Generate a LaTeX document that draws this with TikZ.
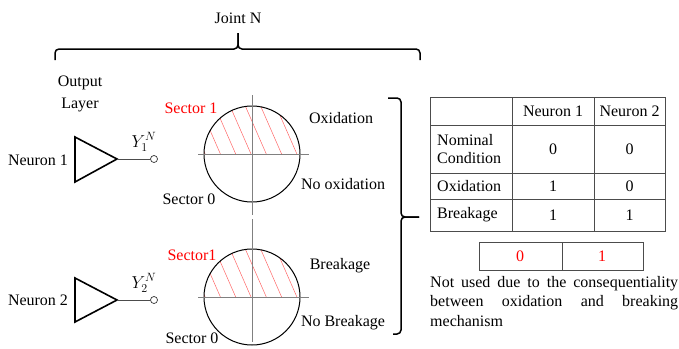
\documentclass[tikz,border=0pt]{standalone}
\usepackage{fontspec}
\setmainfont{Liberation Serif}
\usepackage{tikz}
\usetikzlibrary{positioning}
\tikzset{
    lbl/.style = {inner sep=0pt, font=\fontsize{16}{18}\selectfont},
    redlbl/.style = {lbl, text=red},
    neuron/.style = {draw=black, line width=1.6pt, line join=miter},
    axis/.style = {draw=gray, line width=0.9pt},
    disc/.style = {draw=black, line width=1pt},
    hatch/.style = {draw=red!60, line width=0.5pt},
    brace/.style = {draw=black, line width=1.5pt, rounded corners=4pt},
    grid/.style = {draw=black!70, line width=0.9pt},
}

\begin{document}
\begin{tikzpicture}[x=1pt, y=-1pt]
  \useasboundingbox (0,0) rectangle (679,348);

  % top brace
  \node[lbl] (joint) at (238,18) {Joint N};
  \draw[brace] (55,60) |- (238,49) -- (238,33);
  \draw[brace] (420,60) |- (238,49) -- (238,33);
  \node[lbl, align=center, font=\fontsize{16}{22}\selectfont] (outlayer) at (80,94) {Output\\Layer};

  % neurons
  \node[lbl] (neur1) at (38,160) {Neuron 1};
  \node[lbl] (neur2) at (38,300) {Neuron 2};
  \draw[neuron] (75,137) -- (117,159) -- (75,182) -- cycle;
  \draw[neuron] (75,278) -- (117,300) -- (75,322) -- cycle;
  \coordinate (tip1) at (117,159);
  \coordinate (tip2) at (117,300);
  \node[circle, draw=black!80, line width=0.7pt, inner sep=0pt, minimum size=7pt] (out1) at (154,159) {};
  \node[circle, draw=black!80, line width=0.7pt, inner sep=0pt, minimum size=7pt] (out2) at (154,300) {};
  \draw[black!70, line width=0.8pt] (tip1) -- (out1);
  \draw[black!70, line width=0.8pt] (tip2) -- (out2);
  \node[lbl, font=\fontsize{17}{18}\selectfont] (y1) at (144,142) {$Y_1^N$};
  \node[lbl, font=\fontsize{17}{18}\selectfont] (y2) at (144,283) {$Y_2^N$};

  % sector circles
  \coordinate (c1) at (252,154);
  \coordinate (c2) at (252,297);
  \begin{scope}
    \clip (204,154) arc[start angle=180, end angle=360, radius=48] -- cycle;
    \foreach \i in {-4,...,4}
      \draw[hatch] (251+15.3*\i-21,106) -- (251+15.3*\i,154);
  \end{scope}
  \begin{scope}
    \clip (204,297) arc[start angle=180, end angle=360, radius=48] -- cycle;
    \foreach \i in {-4,...,4}
      \draw[hatch] (251+15.3*\i-21,249) -- (251+15.3*\i,297);
  \end{scope}
  \draw[disc] (c1) circle[radius=48];
  \draw[disc] (c2) circle[radius=48];
  \draw[axis] (198,154) -- (309,154);
  \draw[axis] (252,95) -- (252,215);
  \draw[axis] (198,297) -- (309,297);
  \draw[axis] (252,219) -- (252,342);

  \node[redlbl] (sec11) at (191,108) {Sector 1};
  \node[lbl] (sec01) at (189,199) {Sector 0};
  \node[lbl] (oxid) at (341,118) {Oxidation};
  \node[lbl] (nooxid) at (343,184) {No oxidation};
  \node[redlbl] (sec12) at (192,255) {Sector1};
  \node[lbl] (sec02) at (192,338) {Sector 0};
  \node[lbl] (break) at (340,266) {Breakage};
  \node[lbl] (nobreak) at (343,323) {No Breakage};

  % right brace
  \draw[brace] (388,98) -| (401,217) -- (419,217);
  \draw[brace] (393,334) -| (401,217) -- (419,217);

  % table
  \draw[grid] (430,97) rectangle (665,231);
  \foreach \y in {125,173,199}
    \draw[grid] (430,\y) -- (665,\y);
  \foreach \x in {512,594}
    \draw[grid] (\x,97) -- (\x,231);
  \node[lbl] (hd1) at (553,111) {Neuron 1};
  \node[lbl] (hd2) at (629.5,111) {Neuron 2};
  \node[lbl, anchor=west, align=left] (nom) at (437,149) {Nominal\\Condition};
  \node[lbl, anchor=west] (rox) at (437,186) {Oxidation};
  \node[lbl, anchor=west] (rbr) at (437,215) {Breakage};
  \node[lbl] (v11) at (553,149) {0};
  \node[lbl] (v12) at (629.5,149) {0};
  \node[lbl] (v21) at (553,186) {1};
  \node[lbl] (v22) at (629.5,186) {0};
  \node[lbl] (v31) at (553,215) {1};
  \node[lbl] (v32) at (629.5,215) {1};

  % unused code
  \draw[grid] (479,242) rectangle (643,270);
  \draw[grid] (562,242) -- (562,270);
  \node[redlbl] (u0) at (520,256) {0};
  \node[redlbl] (u1) at (602,256) {1};
  \node[lbl, anchor=north west, text width=248pt, align=justify,
        font=\fontsize{16}{19.5}\selectfont] (note) at (430,276)
    {\hyphenpenalty=10000 Not used due to the consequentiality\linebreak
     between oxidation and breaking\linebreak mechanism};
\end{tikzpicture}
\end{document}
